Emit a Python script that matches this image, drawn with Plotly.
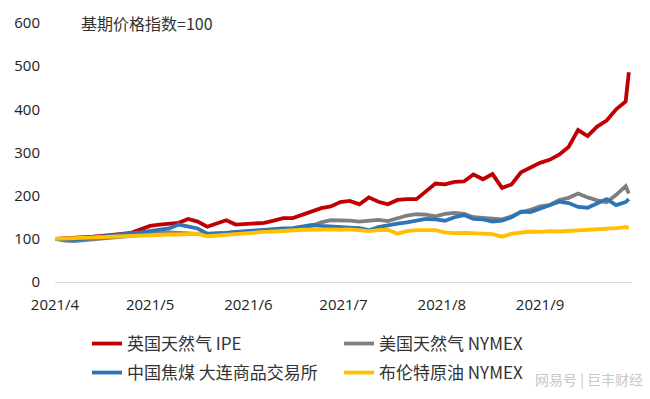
import pandas as pd
import plotly.graph_objects as go

# ---- data -------------------------------------------------------------
dates = list(pd.date_range("2021-04-01", "2021-09-28", freq="3D").strftime("%Y-%m-%d")) + ["2021-09-29"]

series_names = ["英国天然气 IPE", "美国天然气 NYMEX", "中国焦煤 大连商品交易所", "布伦特原油 NYMEX"]

uk_gas_ipe = [100, 101, 103, 102, 105, 107, 110, 113, 114, 122,
              130, 133, 134, 137, 146, 140, 128, 136, 143, 133,
              135, 137, 137, 142, 148, 148, 156, 162, 171, 175,
              185, 188, 180, 196, 186, 180, 190, 192, 192, 210,
              228, 226, 232, 233, 249, 238, 250, 218, 226, 254,
              265, 276, 283, 295, 313, 352, 338, 360, 374, 400,
              418, 486]

us_gas_nymex = [100, 96, 95, 97, 100, 103, 104, 106, 108, 110,
                112, 114, 115, 114, 113, 111, 110, 112, 114, 116,
                118, 119, 120, 121, 122, 122, 124, 130, 138, 143,
                143, 142, 140, 143, 144, 141, 148, 154, 157, 156,
                152, 158, 160, 158, 150, 148, 146, 145, 152, 162,
                167, 175, 178, 190, 195, 205, 196, 189, 185, 202,
                222, 205]

cn_coking_coal = [100, 99, 98, 100, 103, 105, 107, 110, 113, 115,
                  118, 120, 124, 133, 128, 124, 112, 112, 114, 116,
                  118, 120, 122, 124, 124, 125, 128, 132, 130, 128,
                  127, 126, 125, 120, 127, 132, 135, 138, 142, 146,
                  145, 142, 150, 155, 146, 145, 140, 142, 150, 163,
                  162, 170, 176, 186, 183, 174, 172, 181, 192, 178,
                  185, 192]

brent_nymex = [100, 101, 100, 102, 104, 105, 106, 107, 107, 108,
               109, 109, 110, 110, 111, 112, 106, 108, 110, 111,
               113, 114, 116, 117, 119, 120, 121, 121, 122, 122,
               121, 122, 120, 118, 120, 121, 112, 118, 120, 121,
               120, 115, 113, 114, 112, 112, 111, 105, 112, 115,
               117, 116, 118, 117, 118, 120, 120, 121, 122, 125,
               127, 126]

tick_dates = ["2021-04-01", "2021-05-01", "2021-06-01", "2021-07-01", "2021-08-01", "2021-09-01"]
tick_labels = ["2021/4", "2021/5", "2021/6", "2021/7", "2021/8", "2021/9"]

colors = ["#C00000", "#7F7F7F", "#2E75B6", "#FFC000"]
legend_ids = ["legend", "legend", "legend2", "legend2"]

# ---- figure -----------------------------------------------------------
fig = go.Figure()
for name, vals, col, lg in zip(series_names,
                               [uk_gas_ipe, us_gas_nymex, cn_coking_coal, brent_nymex],
                               colors, legend_ids):
    fig.add_trace(go.Scatter(x=dates, y=vals, name=name, mode="lines",
                             line=dict(color=col, width=3.8), legend=lg))

W, H = 650, 399
tick_font = dict(family="Open Sans, Liberation Sans, sans-serif", size=15, color="#222222")
leg_font = dict(family="Noto Sans CJK SC, sans-serif", size=17, color="#333333")

legend_common = dict(orientation="h", xref="container", yref="container",
                     xanchor="left", yanchor="middle",
                     entrywidth=207, entrywidthmode="pixels", itemwidth=30,
                     font=leg_font, bgcolor="rgba(0,0,0,0)", borderwidth=0)

fig.update_layout(
    width=W, height=H,
    margin=dict(l=55, r=18, t=23, b=115),
    paper_bgcolor="white", plot_bgcolor="white",
    xaxis=dict(type="date", range=["2021-04-01", "2021-09-30"],
               tickvals=tick_dates, ticktext=tick_labels,
               showgrid=False, zeroline=False, showline=True,
               linecolor="#D9D9D9", linewidth=1, ticks="",
               tickfont=tick_font, ticklabelstandoff=9),
    yaxis=dict(range=[0, 600], dtick=100, tick0=0,
               showgrid=False, zeroline=False, showline=False, ticks="",
               tickfont=tick_font, ticklabelstandoff=14),
    legend=dict(x=87 / W, y=1 - 344 / H, **legend_common),
    legend2=dict(x=87 / W, y=1 - 373 / H, **legend_common),
    showlegend=True,
    annotations=[
        dict(text="基期价格指数=100", xref="paper", yref="paper",
             x=(79 - 55) / 577, y=1.0, xanchor="left", yanchor="middle",
             showarrow=False, font=dict(family="Noto Sans CJK SC, sans-serif", size=16, color="#333333")),
        dict(text="网易号 | 巨丰财经", xref="paper", yref="paper",
             x=(645 - 55) / 577, y=(284 - 382) / 261, xanchor="right", yanchor="middle",
             showarrow=False, font=dict(family="Noto Sans CJK SC, sans-serif", size=14, color="#C8C8C8")),
    ],
)

fig.write_html("out.html", config={"displayModeBar": False},
               post_script="document.body.style.margin='0px';")
